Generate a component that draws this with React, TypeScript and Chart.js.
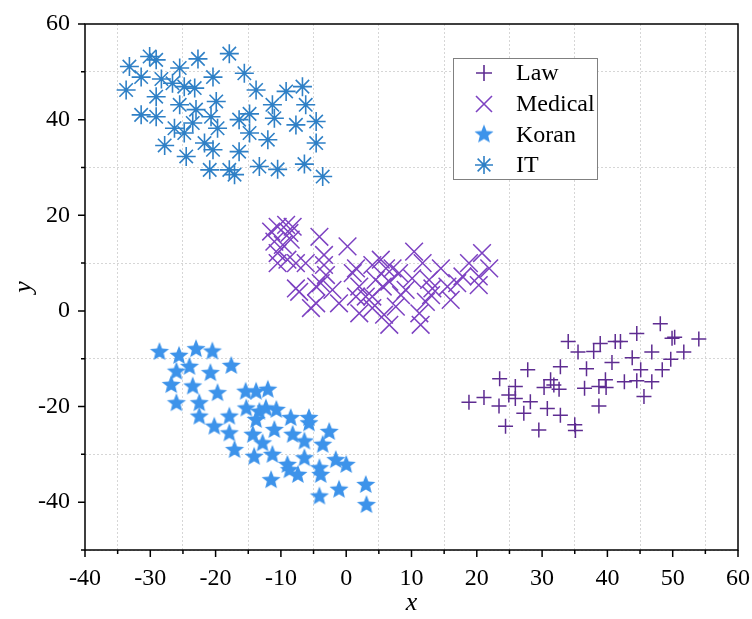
import React, { useEffect, useRef } from 'react';
import { Chart, registerables } from 'chart.js';

Chart.register(...registerables);

// ---------- data ----------
const seriesNames = ['Law', 'Medical', 'Koran', 'IT'];

const lawX = [18.8, 21.1, 23.5, 23.4, 24.4, 24.9, 25.9, 25.9, 27.2, 27.8, 28.2, 29.5, 30.3, 30.8, 31.3, 31.8, 32.6, 32.8, 32.8, 35.0, 35.1, 34.0, 35.5, 36.5, 36.8, 37.9, 38.9, 38.7, 38.7, 39.7, 39.8, 40.7, 41.2, 42.0, 42.6, 43.8, 44.5, 44.5, 45.1, 45.6, 46.8, 46.8, 48.1, 48.4, 49.7, 49.9, 50.3, 51.7, 54.0];
const lawY = [-19.1, -18.1, -14.2, -19.9, -24.1, -17.6, -15.8, -18.3, -21.4, -12.3, -19.0, -24.9, -16.0, -20.4, -14.4, -15.5, -16.4, -11.7, -21.8, -23.8, -25.0, -6.4, -8.6, -16.2, -12.1, -8.5, -6.8, -19.9, -15.8, -14.4, -16.0, -10.8, -6.4, -6.4, -14.8, -9.8, -4.7, -14.6, -12.3, -17.9, -14.8, -8.6, -2.7, -12.3, -10.1, -5.7, -5.5, -8.6, -5.9];

const medicalX = [-11.5, -10.5, -9.2, -8.2, -8.7, -11.0, -9.7, -8.5, -10.5, -9.0, -10.5, -7.7, -6.2, -4.1, -3.4, -3.4, 0.2, -7.7, -7.2, -5.4, -4.6, -3.9, -2.1, -1.1, 1.0, 1.5, 2.0, 4.0, 5.3, 6.1, 4.5, 5.6, 4.0, 5.8, 6.6, 7.6, 8.1, 9.1, 10.4, 11.7, 12.7, 11.4, 13.0, 12.2, 14.5, 15.5, 16.0, 17.8, 18.8, 20.3, 20.3, 20.8, 21.9, -3.1, -4.6, 1.5, 2.0, 3.0, 4.0, 17.0, 13.2, 10.1, 7.1, 6.6, 8.4, 11.2];
const medicalY = [16.6, 17.6, 18.0, 17.6, 16.3, 14.5, 13.8, 14.9, 12.1, 10.7, 10.0, 10.0, 10.0, 15.5, 11.7, 9.6, 13.5, 4.7, 4.0, 0.6, 5.1, 5.8, 4.4, 1.6, 7.9, 3.0, -0.5, 9.6, 10.7, 8.9, 6.5, 5.1, 3.0, -0.8, -2.9, 0.9, 7.9, 4.4, 12.4, 10.0, 6.5, -2.9, 3.3, 1.9, 8.9, 5.1, 2.3, 7.2, 10.0, 7.2, 5.4, 12.1, 8.9, 7.5, 1.6, 8.9, 5.1, 3.0, 0.6, 5.8, 4.7, 6.8, 8.9, 6.1, 3.3, -0.5];

const koranX = [-28.6, -25.6, -23.0, -20.5, -26.0, -24.0, -20.8, -17.6, -26.8, -23.5, -26.0, -22.5, -19.7, -15.4, -13.8, -12.0, -22.5, -20.2, -17.9, -15.3, -13.3, -12.3, -10.7, -13.8, -17.9, -17.1, -14.3, -12.8, -11.0, -8.5, -5.7, -5.7, -8.2, -6.4, -3.6, -2.6, -14.1, -11.3, -9.0, -6.4, -8.7, -7.4, -4.1, -3.9, -1.6, 0.0, -11.5, -4.1, -1.1, 3.0, 3.1];
const koranY = [-8.6, -9.4, -8.0, -8.5, -12.7, -11.7, -13.0, -11.5, -15.5, -15.8, -19.3, -19.3, -17.2, -16.9, -16.9, -16.5, -22.1, -24.2, -22.1, -20.4, -21.1, -20.4, -20.7, -22.8, -25.6, -29.1, -25.9, -27.7, -24.9, -22.4, -22.4, -23.5, -25.9, -27.3, -28.0, -25.3, -30.5, -30.1, -32.2, -30.8, -33.3, -34.3, -32.9, -34.3, -31.2, -32.2, -35.4, -38.8, -37.4, -36.4, -40.6];

const itX = [-33.2, -30.1, -29.1, -31.4, -33.7, -28.3, -25.5, -22.7, -17.9, -15.6, -20.4, -26.6, -24.8, -23.2, -29.1, -25.5, -23.0, -19.9, -13.8, -11.3, -9.2, -6.7, -6.2, -31.4, -29.1, -26.3, -24.8, -23.5, -20.7, -19.7, -16.4, -14.8, -14.8, -11.0, -7.7, -4.6, -4.6, -12.0, -16.4, -20.4, -21.7, -27.8, -24.5, -20.9, -17.9, -17.1, -13.3, -10.5, -6.4, -3.6];
const itY = [51.1, 53.2, 52.5, 48.9, 46.2, 48.5, 50.8, 52.7, 53.8, 49.7, 48.9, 47.6, 46.9, 46.6, 44.8, 43.1, 42.1, 43.8, 46.2, 43.1, 45.9, 46.9, 43.1, 41.0, 40.6, 38.2, 37.2, 39.3, 40.6, 38.2, 40.0, 41.2, 37.2, 40.3, 38.9, 39.6, 35.1, 35.8, 33.3, 33.7, 35.1, 34.6, 32.3, 29.5, 29.5, 28.5, 30.2, 29.6, 30.7, 28.1];

const xRange = [-40, 60];
const yRange = [-50, 60];

// ---------- styles ----------
const LAW_COLOR = '#5e2c91';
const MED_COLOR = '#7d42c2';
const KORAN_COLOR = '#3d93ea';
const IT_COLOR = '#2f80c6';
const GRID_COLOR = '#d6d6d6';
const SERIF = '"Liberation Serif", "Times New Roman", serif';

function makeStar(color: string, rOuter: number, rInner: number): HTMLCanvasElement {
  const c = document.createElement('canvas');
  const s = Math.ceil(rOuter * 2 + 2);
  c.width = s;
  c.height = s;
  const ctx = c.getContext('2d')!;
  ctx.translate(s / 2, s / 2);
  ctx.beginPath();
  for (let i = 0; i < 10; i++) {
    const r = i % 2 === 0 ? rOuter : rInner;
    const a = -Math.PI / 2 + (i * Math.PI) / 5;
    ctx.lineTo(r * Math.cos(a), r * Math.sin(a));
  }
  ctx.closePath();
  ctx.fillStyle = color;
  ctx.fill();
  return c;
}

function pts(xs: number[], ys: number[]) {
  return xs.map((x, i) => ({ x, y: ys[i] }));
}

function drawMarker(ctx: CanvasRenderingContext2D, kind: string, x: number, y: number, color: string, star?: HTMLCanvasElement) {
  ctx.save();
  ctx.strokeStyle = color;
  ctx.lineWidth = 1.6;
  ctx.beginPath();
  if (kind === 'cross') {
    const r = 8;
    ctx.moveTo(x - r, y); ctx.lineTo(x + r, y);
    ctx.moveTo(x, y - r); ctx.lineTo(x, y + r);
  } else if (kind === 'crossRot') {
    const r = 8;
    ctx.moveTo(x - r, y - r); ctx.lineTo(x + r, y + r);
    ctx.moveTo(x + r, y - r); ctx.lineTo(x - r, y + r);
  } else if (kind === 'asterisk') {
    const r = 9;
    const d = r * Math.SQRT1_2;
    ctx.moveTo(x - r, y); ctx.lineTo(x + r, y);
    ctx.moveTo(x, y - r); ctx.lineTo(x, y + r);
    ctx.moveTo(x - d, y - d); ctx.lineTo(x + d, y + d);
    ctx.moveTo(x + d, y - d); ctx.lineTo(x - d, y + d);
  }
  ctx.stroke();
  if (kind === 'star' && star) {
    ctx.drawImage(star, x - star.width / 2, y - star.height / 2);
  }
  ctx.restore();
}

export default function App() {
  const ref = useRef<HTMLCanvasElement | null>(null);

  useEffect(() => {
    if (!ref.current) return;
    const starImg = makeStar(KORAN_COLOR, 10, 4.4);
    const legendKinds = ['cross', 'crossRot', 'star', 'asterisk'];
    const legendColors = [LAW_COLOR, MED_COLOR, KORAN_COLOR, IT_COLOR];

    const framePlugin = {
      id: 'frameAndLegend',
      afterDraw(chart: any) {
        const { ctx, chartArea: a, scales } = chart;
        const xs = scales.x;
        const ys = scales.y;
        ctx.save();
        ctx.strokeStyle = '#000';
        ctx.lineWidth = 1.5;
        ctx.strokeRect(a.left, a.top, a.right - a.left, a.bottom - a.top);
        ctx.beginPath();
        for (const t of xs.ticks) {
          const px = xs.getPixelForValue(t.value);
          const len = t.value % 10 === 0 ? 7 : 4;
          ctx.moveTo(px, a.bottom);
          ctx.lineTo(px, a.bottom + len);
        }
        for (const t of ys.ticks) {
          const py = ys.getPixelForValue(t.value);
          const len = t.value % 20 === 0 ? 7 : 4;
          ctx.moveTo(a.left - len, py);
          ctx.lineTo(a.left, py);
        }
        ctx.stroke();

        // legend
        const bx = 453, by = 58, bw = 144, bh = 121;
        ctx.fillStyle = '#fff';
        ctx.fillRect(bx, by, bw, bh);
        ctx.strokeStyle = '#808080';
        ctx.lineWidth = 1;
        ctx.strokeRect(bx + 0.5, by + 0.5, bw, bh);
        const rows = [73, 104, 134.5, 165];
        ctx.font = `24px ${SERIF}`;
        ctx.textAlign = 'left';
        ctx.textBaseline = 'middle';
        chart.data.datasets.forEach((ds: any, i: number) => {
          drawMarker(ctx, legendKinds[i], 484, rows[i], legendColors[i], starImg);
          ctx.fillStyle = '#000';
          ctx.fillText(ds.label, 516, rows[i] + 1);
        });
        ctx.restore();
      },
    };

    const tickFont = { family: SERIF, size: 24 };
    const titleFont = { family: SERIF, size: 26, style: 'italic' as const };

    const chart = new Chart(ref.current, {
      type: 'scatter',
      data: {
        datasets: [
          {
            label: seriesNames[0],
            data: pts(lawX, lawY),
            pointStyle: 'cross',
            pointRadius: 7.5,
            borderColor: LAW_COLOR,
            backgroundColor: LAW_COLOR,
            borderWidth: 1.5,
          },
          {
            label: seriesNames[1],
            data: pts(medicalX, medicalY),
            pointStyle: 'crossRot',
            pointRadius: 12.5,
            borderColor: MED_COLOR,
            backgroundColor: MED_COLOR,
            borderWidth: 1.5,
          },
          {
            label: seriesNames[2],
            data: pts(koranX, koranY),
            pointStyle: starImg as any,
            pointRadius: 10,
            borderColor: KORAN_COLOR,
            backgroundColor: KORAN_COLOR,
          },
          {
            label: seriesNames[3],
            data: pts(itX, itY),
            pointStyle: 'star',
            pointRadius: 9.5,
            borderColor: IT_COLOR,
            backgroundColor: IT_COLOR,
            borderWidth: 1.6,
          },
        ],
      },
      options: {
        responsive: false,
        animation: false,
        devicePixelRatio: 1,
        layout: { padding: { top: 24, right: 13, left: 0, bottom: 0 } },
        plugins: { legend: { display: false }, tooltip: { enabled: false } },
        scales: {
          x: {
            type: 'linear',
            min: xRange[0],
            max: xRange[1],
            ticks: {
              stepSize: 5,
              autoSkip: false,
              maxRotation: 0,
              padding: 14,
              color: '#000',
              font: tickFont,
              callback: (v: any) => (Number(v) % 10 === 0 ? String(v) : ''),
            },
            grid: {
              drawTicks: false,
              lineWidth: 1,
              color: (c: any) => (c.tick && c.tick.value % 10 !== 0 ? GRID_COLOR : 'rgba(0,0,0,0)'),
            },
            border: { display: false, dash: [2, 2] },
            title: { display: true, text: 'x', color: '#000', font: titleFont, padding: { top: 0, bottom: 0 } },
            afterFit: (s: any) => {
              s.height = 69;
              s.paddingLeft = 0;
              s.paddingRight = 0;
            },
          },
          y: {
            type: 'linear',
            min: yRange[0],
            max: yRange[1],
            ticks: {
              stepSize: 10,
              autoSkip: false,
              padding: 15,
              color: '#000',
              font: tickFont,
              callback: (v: any) => (Number(v) % 20 === 0 ? String(v) : ''),
            },
            grid: {
              drawTicks: false,
              lineWidth: 1,
              color: (c: any) => (c.tick && c.tick.value % 20 !== 0 ? GRID_COLOR : 'rgba(0,0,0,0)'),
            },
            border: { display: false, dash: [2, 2] },
            title: { display: true, text: 'y', color: '#000', font: titleFont, padding: { top: 9, bottom: 0 } },
            afterFit: (s: any) => {
              s.width = 85;
              s.paddingTop = 0;
              s.paddingBottom = 0;
            },
          },
        },
      },
      plugins: [framePlugin],
    });
    return () => chart.destroy();
  }, []);

  return (
    <div style={{ position: 'fixed', left: 0, top: 0, width: 752, height: 619, background: '#fff' }}>
      <canvas ref={ref} width={752} height={619} style={{ display: 'block' }} />
    </div>
  );
}
